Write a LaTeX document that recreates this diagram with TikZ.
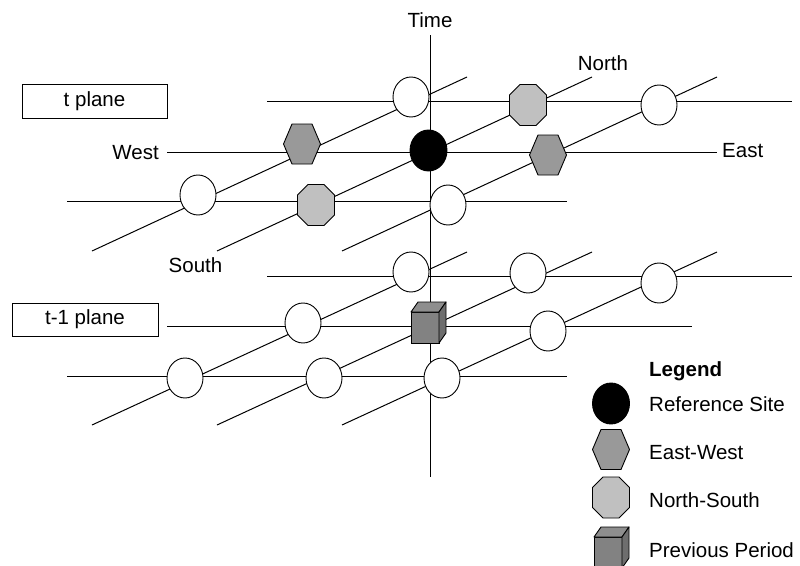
\documentclass[tikz,border=0pt]{standalone}
\usepackage{fontspec}
\setmainfont{Liberation Sans}
\usetikzlibrary{shapes.geometric}
\newcommand\drawhex[1]{\draw[hexsty] (#1) ++(-18.5,0) -- ++(8.5,-20) -- ++(20,0) -- ++(8.5,20) -- ++(-8.5,20) -- ++(-20,0) -- cycle;}
\newcommand\drawoct[1]{\draw[octsty] (#1) ++(-18.5,-10) -- ++(10.5,-10.5) -- ++(16,0) -- ++(10.5,10.5) -- ++(0,20) -- ++(-10.5,10.5) -- ++(-16,0) -- ++(-10.5,-10.5) -- cycle;}
\newcommand\drawcube[1]{%
 \draw[cubefront] (#1) ++(-17,-10) rectangle ++(28,31);
 \draw[cubetop] (#1) ++(-17,-10) -- ++(7,-10) -- ++(28,0) -- ++(-7,10) -- cycle;
 \draw[cubeside] (#1) ++(11,-10) -- ++(7,-10) -- ++(0,31) -- ++(-7,10) -- cycle;}
\begin{document}
\begin{tikzpicture}[x=1pt,y=-1pt,
  grid/.style={line width=1pt, line cap=butt},
  site/.style={ellipse, draw, line width=0.9pt, fill=white, minimum width=36pt, minimum height=40pt, inner sep=0pt},
  refsite/.style={site, fill=black, minimum width=37pt, minimum height=41pt},
  hexsty/.style={draw, line width=0.9pt, fill=hexgray, line join=miter},
  octsty/.style={draw, line width=0.9pt, fill=octgray, line join=miter},
  cubefront/.style={draw, line width=0.9pt, fill=cubegray},
  cubetop/.style={draw, line width=0.9pt, fill=cubetopgray, line join=round},
  cubeside/.style={draw, line width=0.9pt, fill=cubesidegray, line join=round},
  lbl/.style={font=\fontsize{20.5}{24}\selectfont, inner sep=0pt},
  planebox/.style={draw, line width=0.9pt, inner sep=0pt, font=\fontsize{20.5}{24}\selectfont}
]
\definecolor{hexgray}{HTML}{999999}
\definecolor{octgray}{HTML}{C0C0C0}
\definecolor{cubegray}{HTML}{828282}
\definecolor{cubetopgray}{HTML}{8E8E8E}
\definecolor{cubesidegray}{HTML}{6E6E6E}
\useasboundingbox (0,0) rectangle (800,565);

% ---------- time axis ----------
\coordinate (ttop) at (430,35);
\coordinate (tbot) at (430,477);
\draw[grid] (ttop) -- (tbot);
\node[lbl, anchor=base] (time) at (430,27) {Time};

% ---------- t plane grid ----------
\draw[grid] (267,101) -- (792,101);
\draw[grid] (167,152) -- (717,152);
\draw[grid] (67,201) -- (567,201);
\draw[grid] (92,251) -- (467,77);
\draw[grid] (217,251) -- (592,77);
\draw[grid] (342,251) -- (717,77);

% ---------- t-1 plane grid ----------
\draw[grid] (267,276) -- (792,276);
\draw[grid] (167,326) -- (692,326);
\draw[grid] (67,376) -- (567,376);
\draw[grid] (92,425) -- (467,252);
\draw[grid] (217,425) -- (592,252);
\draw[grid] (342,425) -- (717,252);

% ---------- t plane sites ----------
\node[site] (c1) at (411,97) {};
\coordinate (o1) at (528,105); \drawoct{o1}
\node[site] (c2) at (659,105) {};
\coordinate (h1) at (302,144); \drawhex{h1}
\node[refsite] (ref) at (428.5,150.5) {};
\coordinate (h2) at (548,155); \drawhex{h2}
\node[site] (c3) at (198,195) {};
\coordinate (o2) at (316,205); \drawoct{o2}
\node[site] (c4) at (448,205) {};

% ---------- t-1 plane sites ----------
\node[site] (c5) at (411,272) {};
\node[site] (c6) at (528,273) {};
\node[site] (c7) at (659,283) {};
\node[site] (c8) at (303,323) {};
\coordinate (cube) at (428,322); \drawcube{cube}
\node[site] (c9) at (548,331) {};
\node[site] (c10) at (185,378) {};
\node[site] (c11) at (324,378) {};
\node[site] (c12) at (442,378) {};

% ---------- direction labels ----------
\node[lbl, anchor=base] (north) at (603,70) {North};
\node[lbl, anchor=base west] (east) at (722,157.5) {East};
\node[lbl, anchor=base east] (west) at (159,159) {West};
\node[lbl, anchor=base] (south) at (195.5,272) {South};

% ---------- plane boxes ----------
\node[planebox, minimum width=145pt, minimum height=34pt] (tbox) at (94.5,101) {t plane};
\node[planebox, minimum width=146pt, minimum height=33pt] (t1box) at (85,319.5) {t-1 plane};

% ---------- legend ----------
\node[lbl, anchor=base west, font=\fontsize{20.5}{24}\selectfont\bfseries] (legend) at (649,376) {Legend};
\node[refsite] (lref) at (611,403.5) {};
\node[lbl, anchor=base west] (lreft) at (649,411) {Reference Site};
\coordinate (lhex) at (611,449.5); \drawhex{lhex}
\node[lbl, anchor=base west] (lhext) at (649,459) {East-West};
\coordinate (loct) at (611,497.5); \drawoct{loct}
\node[lbl, anchor=base west] (loctt) at (649,507) {North-South};
\coordinate (lcube) at (611,547); \drawcube{lcube}
\node[lbl, anchor=base west] (lcubet) at (649,557) {Previous Period};
\end{tikzpicture}
\end{document}
